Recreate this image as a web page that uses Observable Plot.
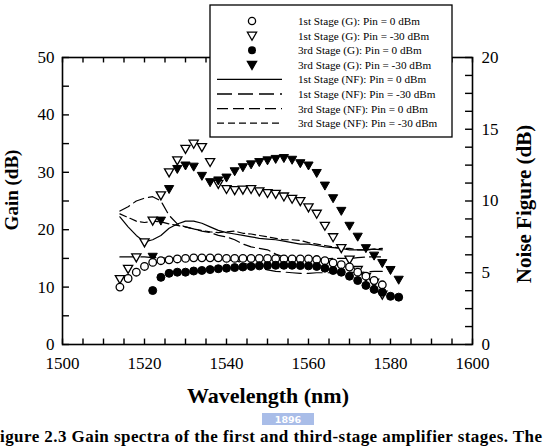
<!DOCTYPE html>
<html><head><meta charset="utf-8">
<script src="https://cdn.jsdelivr.net/npm/d3@7"></script>
<script src="https://cdn.jsdelivr.net/npm/@observablehq/plot@0.6"></script>
<style>body{margin:0;background:#fff;overflow:hidden} svg{display:block}</style>
</head><body><div id="chart"></div>
<script>
// ---- data ----
const wl1 = [1514,1516,1518,1520,1522,1524,1526,1528,1530,1532,1534,1536,1538,1540,1542,1544,1546,1548,1550,1552,1554,1556,1558,1560,1562,1564,1566,1568,1570,1572,1574,1576,1578];
const gain1_0 = [10.0,11.5,12.6,13.6,14.3,14.6,14.75,14.9,15.0,15.1,15.1,15.1,15.1,15.0,15.0,15.0,15.0,15.0,15.0,14.95,14.9,14.9,14.9,14.9,14.8,14.6,14.2,13.9,13.5,12.6,11.9,11.15,10.4];
const gain1_30 = [11.4,13.2,15.2,17.8,21.6,26.0,30.0,32.1,34.1,35.0,34.4,31.8,28.0,27.1,26.9,27.0,27.1,26.7,26.4,26.25,25.8,25.4,25.0,23.9,22.8,20.7,18.7,16.8,14.8,13.0,11.8,10.8,8.7];
const wl3 = [1522,1524,1526,1528,1530,1532,1534,1536,1538,1540,1542,1544,1546,1548,1550,1552,1554,1556,1558,1560,1562,1564,1566,1568,1570,1572,1574,1576,1578,1580,1582];
const gain3_0 = [9.4,11.7,12.4,12.6,12.6,12.8,12.9,13.05,13.2,13.3,13.4,13.5,13.6,13.7,13.75,13.8,13.8,13.8,13.75,13.7,13.6,13.3,12.9,12.6,11.9,11.15,10.3,9.6,9.1,8.4,8.25];
const gain3_30 = [15.3,21.6,27.1,30.6,31.2,31.0,29.4,28.3,28.6,29.1,30.2,30.9,31.4,31.8,32.1,32.35,32.5,32.2,31.6,31.2,29.9,27.7,25.5,23.3,20.7,18.8,16.8,15.5,14.2,13.0,11.3];
const wlNF = [1514,1516,1518,1520,1522,1524,1526,1528,1530,1532,1534,1536,1538,1540,1542,1544,1546,1548,1550,1552,1554,1556,1558,1560,1562,1564,1566,1568,1570,1572,1574,1576,1578];
const nf1_0  = [8.9,8.2,7.6,7.15,7.3,7.6,8.1,8.4,8.6,8.6,8.45,8.2,7.95,7.8,7.7,7.6,7.5,7.4,7.35,7.3,7.2,7.1,7.0,7.0,6.9,6.8,6.75,6.7,6.6,6.6,6.6,6.65,6.6];
const nf1_30 = [6.1,6.1,6.1,6.1,6.05,6.05,6.0,6.0,6.0,6.0,5.95,5.95,5.9,5.9,5.85,5.7,5.5,5.35,5.2,5.1,5.05,5.0,4.95,4.95,5.0,5.0,5.0,5.0,5.05,5.0,5.05,5.1,5.1];
const nf3_0  = [9.3,9.6,10.0,10.2,10.3,10.0,9.0,8.4,8.2,8.05,7.9,7.8,7.6,7.5,7.3,7.0,6.8,6.7,6.6,6.3,6.1,6.05,6.0,6.0,6.0,5.95,6.0,6.0,6.0,6.05,6.1,6.1,6.1];
const nf3_30 = [9.1,8.85,8.6,8.5,8.6,8.55,8.4,8.3,8.2,8.05,7.95,7.85,7.8,7.85,7.9,7.75,7.7,7.6,7.5,7.4,7.3,7.3,7.25,7.1,7.0,6.9,6.8,6.7,6.7,6.6,6.6,6.65,6.7];
const legendLabels = ["1st Stage (G): Pin = 0 dBm","1st Stage (G): Pin = -30 dBm","3rd Stage (G): Pin = 0 dBm","3rd Stage (G): Pin = -30 dBm","1st Stage (NF): Pin = 0 dBm","1st Stage (NF): Pin = -30 dBm","3rd Stage (NF): Pin = 0 dBm","3rd Stage (NF): Pin = -30 dBm"];
const xTicks = [1500,1520,1540,1560,1580,1600];
const xMinor = [1500,1505,1510,1515,1520,1525,1530,1535,1540,1545,1550,1555,1560,1565,1570,1575,1580,1585,1590,1595,1600];
const gainTicks = [0,10,20,30,40,50];
const gainMinor = [0,5,10,15,20,25,30,35,40,45,50];
const nfTicks = [0,5,10,15,20];
const nfMinor = [0,1.25,2.5,3.75,5,6.25,7.5,8.75,10,11.25,12.5,13.75,15,16.25,17.5,18.75,20];
const NFK = 2.5; // NF -> gain axis ratio (20 dB NF spans 50 dB gain)

const triDown = {
  draw(ctx, size) {
    const r = Math.sqrt(size / Math.PI);
    ctx.moveTo(-r * 1.15, -r * 0.85);
    ctx.lineTo(r * 1.15, -r * 0.85);
    ctx.lineTo(0, r * 1.15);
    ctx.closePath();
  }
};
const dashes = {solid: null, long: "15,6", medium: "11,5", short: "7,4"};
const zip = (xs, ys) => xs.map((x, i) => ({x, y: ys[i]}));
const zipNF = (xs, ys) => xs.map((x, i) => ({x, nf: ys[i]}));
const serif = "Liberation Serif, Times New Roman, Times, serif";

const svg = Plot.plot({
  width: 544, height: 446,
  marginTop: 57, marginBottom: 102, marginLeft: 62, marginRight: 72,
  style: {fontFamily: serif, fontSize: "17px", color: "#000", background: "#fff"},
  x: {domain: [1500, 1600]},
  y: {domain: [0, 50]},
  marks: [
    // NF lines
    Plot.line(zipNF(wlNF, nf1_0), {x: "x", y: d => d.nf * NFK, stroke: "#000", strokeWidth: 1.2}),
    Plot.line(zipNF(wlNF, nf1_30), {x: "x", y: d => d.nf * NFK, stroke: "#000", strokeWidth: 1.2, strokeDasharray: dashes.long}),
    Plot.line(zipNF(wlNF, nf3_0), {x: "x", y: d => d.nf * NFK, stroke: "#000", strokeWidth: 1.2, strokeDasharray: dashes.medium}),
    Plot.line(zipNF(wlNF, nf3_30), {x: "x", y: d => d.nf * NFK, stroke: "#000", strokeWidth: 1.2, strokeDasharray: dashes.short}),
    // gain symbols
    Plot.dot(zip(wl1, gain1_30), {x: "x", y: "y", symbol: triDown, r: 4, stroke: "#000", fill: "#fff", strokeWidth: 1.3}),
    Plot.dot(zip(wl3, gain3_30), {x: "x", y: "y", symbol: triDown, r: 4, fill: "#000", stroke: "#000", strokeWidth: 1}),
    Plot.dot(zip(wl1, gain1_0), {x: "x", y: "y", r: 3.8, stroke: "#000", fill: "#fff", strokeWidth: 1.3}),
    Plot.dot(zip(wl3, gain3_0), {x: "x", y: "y", r: 4, fill: "#000", stroke: "#000", strokeWidth: 1}),
    // ticks (inward)
    Plot.ruleX(xMinor, {x: d => d, y1: 0, y2: 0.95, stroke: "#000", strokeWidth: 1.4}),
    Plot.ruleX(xMinor, {x: d => d, y1: 50, y2: 49.05, stroke: "#000", strokeWidth: 1.4}),
    Plot.ruleY(gainMinor, {y: d => d, x1: 1500, x2: 1501.7, stroke: "#000", strokeWidth: 1.4}),
    Plot.ruleY(nfMinor, {y: d => d * NFK, x1: 1600, x2: 1598.3, stroke: "#000", strokeWidth: 1.4}),
    Plot.frame({stroke: "#000", strokeWidth: 1.6}),
    // axes labels
    Plot.axisX({ticks: xTicks, tickSize: 0, tickPadding: 12, tickFormat: d => String(d), label: null}),
    Plot.axisY({ticks: gainTicks, tickSize: 0, tickPadding: 8, label: null}),
    Plot.axisY({anchor: "right", ticks: nfTicks.map(d => d * NFK), tickFormat: d => String(d / NFK), tickSize: 0, tickPadding: 9, label: null})
  ]
});
document.getElementById("chart").appendChild(svg);

const s = d3.select(svg);
// axis titles
s.append("text").attr("transform", "translate(18,190) rotate(-90)").attr("text-anchor", "middle")
  .attr("font-family", serif).attr("font-weight", "bold").attr("font-size", 19).attr("fill", "#000").text("Gain (dB)");
s.append("text").attr("transform", "translate(531,204) rotate(-90)").attr("text-anchor", "middle")
  .attr("font-family", serif).attr("font-weight", "bold").attr("font-size", 21).attr("fill", "#000").text("Noise Figure (dB)");
s.append("text").attr("x", 268).attr("y", 403).attr("text-anchor", "middle")
  .attr("font-family", serif).attr("font-weight", "bold").attr("font-size", 22).attr("fill", "#000").text("Wavelength (nm)");

// watermark-ish badge
s.append("rect").attr("x", 262).attr("y", 413).attr("width", 52).attr("height", 12).attr("fill", "#a9bde8");
s.append("text").attr("x", 288).attr("y", 423).attr("text-anchor", "middle").attr("font-family", "DejaVu Sans")
  .attr("font-weight", "bold").attr("font-size", 9.5).attr("fill", "#fff").text("1896");

// caption (bottom of the source page)
s.append("text").attr("x", 0).attr("y", 442).attr("text-anchor", "start").attr("font-family", serif).attr("font-weight", "bold")
  .attr("font-size", 17).attr("fill", "#000").attr("textLength", 542).attr("lengthAdjust", "spacing")
  .text("igure 2.3 Gain spectra of the first and third-stage amplifier stages. The");

// legend
const lg = s.append("g");
lg.append("rect").attr("x", 210).attr("y", 5).attr("width", 242).attr("height", 132)
  .attr("fill", "#fff").attr("stroke", "#000").attr("stroke-width", 1.3);
const rowY = i => 21 + i * 14.6;
const symX = 252;
legendLabels.forEach((lab, i) => {
  const y = rowY(i);
  if (i === 0) lg.append("circle").attr("cx", symX).attr("cy", y).attr("r", 3.6).attr("fill", "#fff").attr("stroke", "#000").attr("stroke-width", 1.3);
  if (i === 2) lg.append("circle").attr("cx", symX).attr("cy", y).attr("r", 4).attr("fill", "#000");
  if (i === 1 || i === 3) {
    const p = d3.path(); triDown.draw(p, Math.PI * 16);
    lg.append("path").attr("d", p.toString()).attr("transform", `translate(${symX},${y})`)
      .attr("fill", i === 1 ? "#fff" : "#000").attr("stroke", "#000").attr("stroke-width", 1.3);
  }
  if (i >= 4) {
    const da = [dashes.solid, dashes.long, dashes.medium, dashes.short][i - 4];
    const l = lg.append("line").attr("x1", 217).attr("x2", 282).attr("y1", y).attr("y2", y).attr("stroke", "#000").attr("stroke-width", 1.3);
    if (da) l.attr("stroke-dasharray", da);
  }
  lg.append("text").attr("x", 298).attr("y", y).attr("dy", "0.35em").attr("text-anchor", "start").attr("font-family", serif)
    .attr("font-size", 11.2).attr("fill", "#000").text(lab);
});
</script>
</body></html>
